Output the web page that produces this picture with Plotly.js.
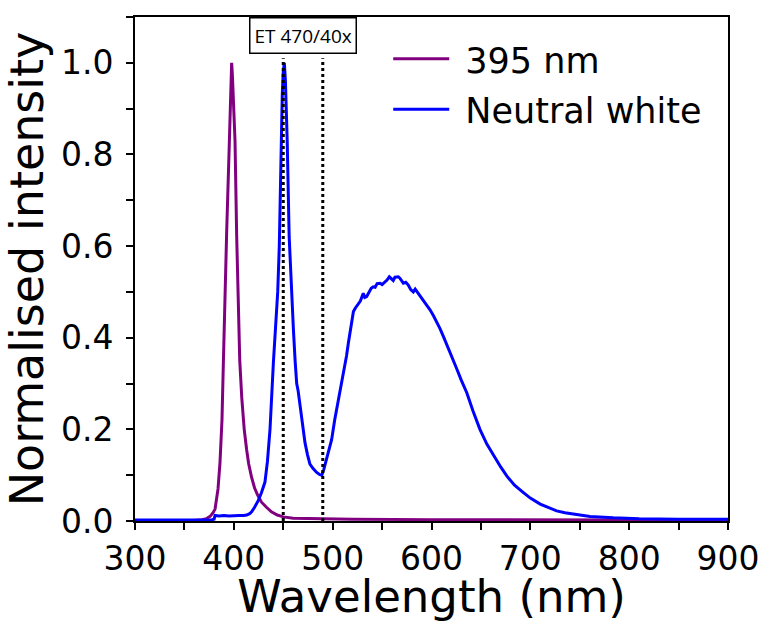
<!DOCTYPE html>
<html>
<head>
<meta charset="utf-8">
<script src="https://cdn.plot.ly/plotly-3.0.1.min.js"></script>
<style>
html,body{margin:0;padding:0;background:#fff;}
#chart{width:764px;height:623px;}
</style>
</head>
<body>
<div id="chart"></div>
<script>
// 395 nm LED spectrum
const uvWavelength = [300, 340, 360, 368, 372, 376, 379, 381, 384, 386, 388, 389.4, 391, 392.8, 395.5, 397, 397.8, 398.6, 400, 401.2, 402.9, 404, 406, 408, 410.5, 413, 415, 418, 421, 424, 428, 433, 438, 444, 450, 460, 480, 520, 600, 700, 800, 900];
const uvIntensity  = [0.000, 0.000, 0.001, 0.003, 0.005, 0.010, 0.018, 0.026, 0.07, 0.128, 0.22, 0.345, 0.50, 0.635, 0.83, 0.96, 1.0, 0.97, 0.90, 0.83, 0.62, 0.50, 0.35, 0.27, 0.20, 0.155, 0.125, 0.095, 0.072, 0.057, 0.041, 0.03, 0.02, 0.013, 0.009, 0.006, 0.005, 0.004, 0.003, 0.002, 0.002, 0.002];

// Neutral white LED spectrum
const nwWavelength = [300, 340, 370, 378, 380, 381, 385, 390, 395, 400, 405, 410, 413, 416, 418, 421, 424.8, 428, 431.5, 434, 436.6, 440, 442, 444.4, 446, 447.7, 449, 450, 451.1, 452.2, 454, 456, 458, 460.3, 462, 463.6, 465, 466.5, 468.7, 472, 474.5, 477, 480, 483.8, 487, 489, 491, 494, 497, 499, 502, 505.8, 509, 512.5, 514, 516, 517.6, 519, 521, 523, 526, 528, 531, 532.5, 534.4, 537, 539, 541, 543, 545, 548, 550, 553, 555, 557.3, 559, 561.3, 563, 566.4, 568, 571.5, 574, 576.5, 579, 581.6, 583.5, 585.6, 588, 591.7, 595, 598.5, 602, 605.3, 608.6, 612, 616, 620.4, 625, 630, 635.7, 642, 649, 656, 663, 670, 676.3, 684, 693, 700, 710, 718, 726.6, 735, 743.5, 760.4, 784, 810, 850, 900];
const nwIntensity  = [0.002, 0.002, 0.002, 0.003, 0.004, 0.012, 0.011, 0.012, 0.011, 0.012, 0.012, 0.012, 0.013, 0.016, 0.02, 0.03, 0.045, 0.062, 0.085, 0.13, 0.20, 0.345, 0.42, 0.50, 0.60, 0.80, 0.93, 0.98, 1.0, 0.96, 0.83, 0.62, 0.51, 0.417, 0.35, 0.30, 0.285, 0.26, 0.229, 0.171, 0.145, 0.124, 0.115, 0.106, 0.101, 0.10, 0.112, 0.135, 0.16, 0.178, 0.22, 0.265, 0.30, 0.338, 0.36, 0.39, 0.41, 0.43, 0.457, 0.465, 0.475, 0.48, 0.497, 0.488, 0.49, 0.502, 0.508, 0.511, 0.51, 0.518, 0.519, 0.516, 0.522, 0.526, 0.533, 0.53, 0.525, 0.532, 0.533, 0.53, 0.519, 0.521, 0.515, 0.505, 0.50, 0.506, 0.50, 0.493, 0.483, 0.472, 0.461, 0.448, 0.435, 0.42, 0.403, 0.383, 0.36, 0.335, 0.308, 0.28, 0.24, 0.20, 0.168, 0.142, 0.118, 0.098, 0.078, 0.062, 0.05, 0.037, 0.029, 0.022, 0.018, 0.015, 0.01, 0.007, 0.005, 0.004, 0.004];

const seriesNames = ["395 nm", "Neutral white"];
const filterEdges = [450, 490];
const filterLabel = "ET 470/40x";
const xTickValues = [300, 400, 500, 600, 700, 800, 900];
const yTickValues = [0.0, 0.2, 0.4, 0.6, 0.8, 1.0];

const font = "DejaVu Sans, sans-serif";
const gapPrefix = "\u00a0";

const traces = [
  {x: uvWavelength, y: uvIntensity, name: gapPrefix + seriesNames[0], legendgroup: "a", type: "scatter", mode: "lines",
   line: {color: "#800080", width: 3}},
  {x: nwWavelength, y: nwIntensity, name: gapPrefix + seriesNames[1], legendgroup: "b", type: "scatter", mode: "lines",
   line: {color: "#0000ff", width: 3}}
];

const shapes = filterEdges.map(v => ({
  type: "line", xref: "x", yref: "y", x0: v, x1: v, y0: 0, y1: 1.01,
  line: {color: "#000", width: 3, dash: "3px,3px"}, layer: "above"
}));

const layout = {
  width: 764, height: 623,
  margin: {l: 135, r: 36, t: 17, b: 102, pad: 0},
  paper_bgcolor: "#fff", plot_bgcolor: "#fff",
  font: {family: font, color: "#000", size: 33},
  showlegend: true,
  legend: {x: 0.427, y: 0.975, xanchor: "left", yanchor: "top",
           font: {family: font, size: 35, color: "#000"},
           bgcolor: "rgba(0,0,0,0)", itemwidth: 56, tracegroupgap: 2},
  xaxis: {
    range: [300, 900], tickvals: xTickValues, ticktext: xTickValues.map(String),
    ticks: "outside", ticklen: 7, tickwidth: 2, tickcolor: "#000",
    showline: true, linewidth: 2, linecolor: "#000", mirror: true,
    showgrid: false, zeroline: false, automargin: false,
    tickfont: {family: font, size: 33},
    minor: {dtick: 50, tick0: 300, ticks: "outside", ticklen: 7, tickwidth: 2, tickcolor: "#000", showgrid: false},
    title: {text: "Wavelength (nm)", font: {family: font, size: 45}, standoff: 14}
  },
  yaxis: {
    range: [0, 1.1], tickvals: yTickValues, ticktext: yTickValues.map(v => v.toFixed(1)),
    ticks: "outside", ticklen: 7, tickwidth: 2, tickcolor: "#000",
    ticklabelstandoff: 6,
    showline: true, linewidth: 2, linecolor: "#000", mirror: true,
    showgrid: false, zeroline: false,
    tickfont: {family: font, size: 33},
    minor: {dtick: 0.1, tick0: 0, ticks: "outside", ticklen: 7, tickwidth: 2, tickcolor: "#000", showgrid: false},
    title: {text: "Normalised intensity", font: {family: font, size: 46}, standoff: 6}
  },
  shapes: shapes,
  annotations: [{
    text: filterLabel, x: (filterEdges[0] + filterEdges[1]) / 2, xref: "x",
    y: 1, yref: "paper", yanchor: "top", xanchor: "center", showarrow: false,
    font: {family: "Open Sans, sans-serif", size: 19, color: "#000"},
    bordercolor: "#000", borderwidth: 1.5, borderpad: 4, bgcolor: "#fff"
  }]
};

Plotly.newPlot("chart", traces, layout, {displayModeBar: false, staticPlot: true});
</script>
</body>
</html>
